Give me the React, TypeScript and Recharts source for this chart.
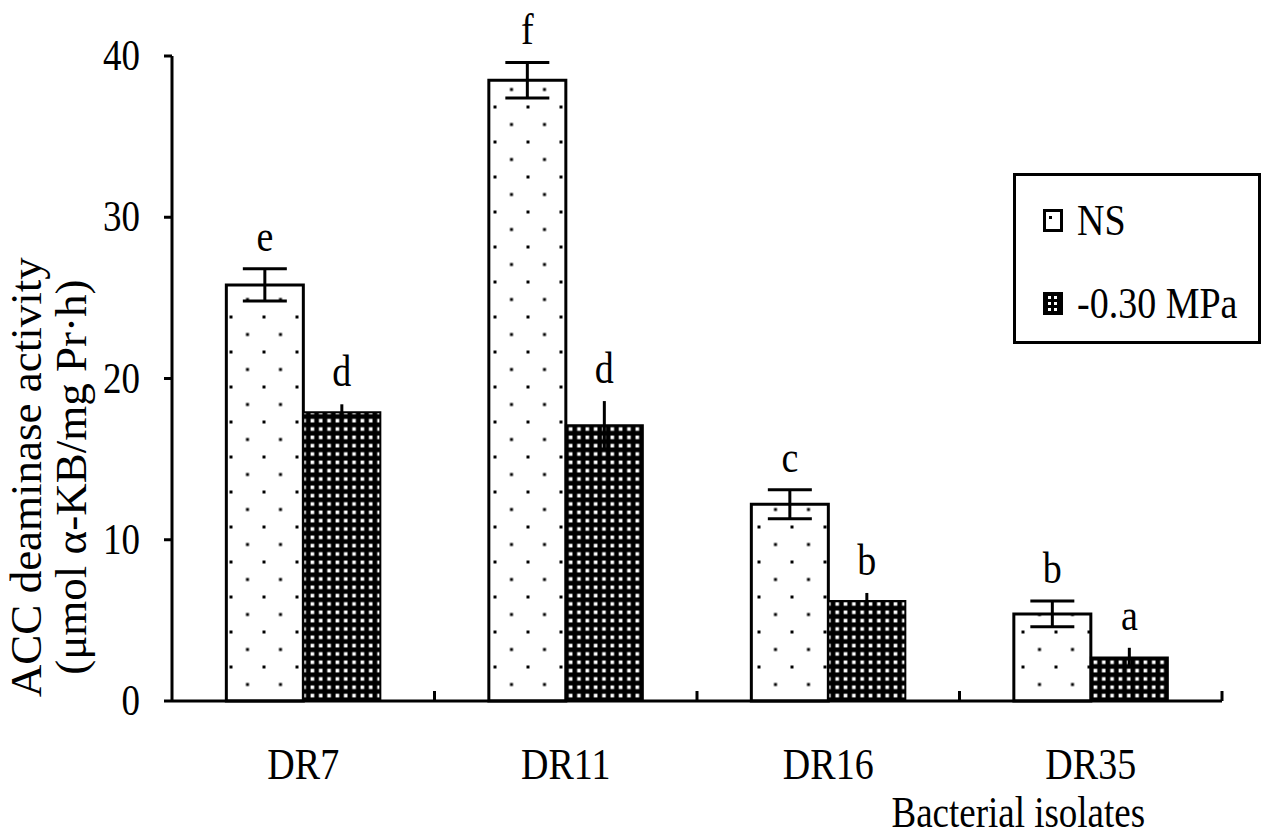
import React from 'react';
import { BarChart, Bar, XAxis, YAxis, ErrorBar, LabelList, Legend } from 'recharts';

// values
const categories = ['DR7', 'DR11', 'DR16', 'DR35'];
const nsValues = [25.8, 38.5, 12.2, 5.4];
const nsErrors = [1.0, 1.1, 0.9, 0.8];
const nsLetters = ['e', 'f', 'c', 'b'];
const stressValues = [17.9, 17.1, 6.2, 2.7];
const stressErrors = [0.5, 1.5, 0.5, 0.6];
const stressLetters = ['d', 'd', 'b', 'a'];
const yTicks = [0, 10, 20, 30, 40];
const seriesOrder = ['ns', 'stress'];

const data = categories.map((name, i) => ({
  name,
  ns: nsValues[i],
  nsErr: nsErrors[i],
  nsLetter: nsLetters[i],
  stress: stressValues[i],
  stressErr: stressErrors[i],
  stressLetter: stressLetters[i],
}));

const FONT = '"Liberation Serif", "Times New Roman", serif';
const STRETCH = 1.17;

const XTick = (props: any) => {
  const { x, y, payload } = props;
  const half = payload.offset ?? 131;
  return (
    <g>
      <line x1={x + half} x2={x + half} y1={y} y2={y - 10} stroke="#000" strokeWidth={3} />
      <g transform={`translate(${x},${y + 78}) scale(1,${STRETCH})`}>
        <text x={0} y={0} textAnchor="middle" fontFamily={FONT} fontSize={38} fill="#000">
          {payload.value}
        </text>
      </g>
    </g>
  );
};

const YTick = (props: any) => {
  const { x, y, payload } = props;
  return (
    <g transform={`translate(${x},${y}) scale(1,${STRETCH})`}>
      <text x={0} y={12} textAnchor="end" fontFamily={FONT} fontSize={37} fill="#000">
        {payload.value}
      </text>
    </g>
  );
};

const YTitle = (props: any) => {
  const vb = props.viewBox || { x: 0, y: 56, width: 172, height: 645 };
  const cy = vb.y + vb.height * 0.653;
  return (
    <g>
      <text x={41} y={cy} transform={`rotate(-90, 41, ${cy})`} textAnchor="middle" fontFamily={FONT} fontSize={45} fill="#000">
        ACC deaminase activity
      </text>
      <text x={86} y={cy} transform={`rotate(-90, 86, ${cy})`} textAnchor="middle" fontFamily={FONT} fontSize={45} fill="#000">
        (μmol α-KB/mg Pr·h)
      </text>
    </g>
  );
};

const XTitle = (props: any) => {
  const vb = props.viewBox || { x: 172, y: 701, width: 1050, height: 136 };
  const cx = vb.x + vb.width * 0.806;
  return (
    <g transform={`translate(${cx},${vb.y + vb.height - 10}) scale(1,${STRETCH})`}>
      <text x={0} y={0} textAnchor="middle" fontFamily={FONT} fontSize={37} fill="#000">
        Bacterial isolates
      </text>
    </g>
  );
};

const letterLabel = (values: number[], errors: number[]) => (props: any) => {
  const vb = props.viewBox && props.viewBox.width !== undefined ? props.viewBox : props;
  const { x, y, width, height } = vb;
  const i = props.index;
  const errPx = values[i] ? (errors[i] * Math.abs(height)) / values[i] : 0;
  const base = y - errPx - 18;
  return (
    <g transform={`translate(${x + width / 2},${base}) scale(1,${STRETCH})`}>
      <text x={0} y={0} textAnchor="middle" fontFamily={FONT} fontSize={38} fill="#000">
        {props.value}
      </text>
    </g>
  );
};

const NsIcon = () => (
  <svg width={20} height={23}>
    <rect x={1.5} y={1.5} width={17} height={20} fill="#fff" stroke="#000" strokeWidth={3} />
    <rect x={6} y={7} width={3} height={3} fill="#000" />
  </svg>
);

const StressIcon = () => (
  <svg width={20} height={23}>
    <rect x={0} y={0} width={20} height={23} fill="#000" />
    <rect x={5} y={4} width={3} height={3} fill="#fff" />
    <rect x={11} y={4} width={3} height={3} fill="#fff" />
    <rect x={5} y={10} width={3} height={3} fill="#fff" />
    <rect x={11} y={10} width={3} height={3} fill="#fff" />
    <rect x={5} y={16} width={3} height={3} fill="#fff" />
    <rect x={11} y={16} width={3} height={3} fill="#fff" />
  </svg>
);

const LegendBox = (props: any) => {
  const items = [...(props.payload || [])].sort(
    (a: any, b: any) => seriesOrder.indexOf(a.dataKey) - seriesOrder.indexOf(b.dataKey)
  );
  return (
    <div
      style={{
        position: 'absolute',
        left: 0,
        top: 0,
        width: 248,
        height: 171,
        border: '3px solid #000',
        boxSizing: 'border-box',
        background: '#fff',
        fontFamily: FONT,
        fontSize: 38,
        color: '#000',
      }}
    >
      {items.map((entry: any, i: number) => (
        <div key={entry.value} style={{ position: 'absolute', left: 27, top: 30 + i * 83, height: 28, display: 'flex', alignItems: 'center' }}>
          {entry.dataKey === 'ns' ? <NsIcon /> : <StressIcon />}
          <span style={{ marginLeft: 14, lineHeight: '28px', display: 'inline-block', transform: `scaleY(${STRETCH})`, whiteSpace: 'nowrap' }}>
            {entry.value}
          </span>
        </div>
      ))}
    </div>
  );
};

export default function App() {
  return (
    <div style={{ position: 'absolute', left: 0, top: 0, background: '#fff' }}>
      <BarChart
        width={1267}
        height={837}
        data={data}
        margin={{ top: 56, right: 45, left: 0, bottom: 0 }}
        barCategoryGap="20.7%"
        barGap={0}
      >
        <defs>
          <pattern id="nsDots" patternUnits="userSpaceOnUse" x={-1.5} y={0.5} width={33} height={35}>
            <rect x={0} y={0} width={33} height={35} fill="#fff" />
            <rect x={0} y={0} width={3} height={3} fill="#000" />
            <rect x={16.5} y={17.5} width={3} height={3} fill="#000" />
          </pattern>
          <pattern id="stressGrid" patternUnits="userSpaceOnUse" x={0} y={0} width={8.33} height={8.33}>
            <rect x={0} y={0} width={8.33} height={8.33} fill="#000" />
            <rect x={2.4} y={2.4} width={3.6} height={3.6} fill="#fff" />
          </pattern>
        </defs>
        <XAxis
          dataKey="name"
          height={136}
          tickSize={0}
          tickMargin={0}
          tickLine={false}
          axisLine={{ stroke: '#000', strokeWidth: 3 }}
          tick={<XTick />}
          interval={0}
          label={<XTitle />}
        />
        <YAxis
          domain={[0, 40]}
          ticks={yTicks}
          width={172}
          tickSize={8}
          tickMargin={24}
          interval={0}
          axisLine={{ stroke: '#000', strokeWidth: 3 }}
          tickLine={{ stroke: '#000', strokeWidth: 3 }}
          tick={<YTick />}
          label={<YTitle />}
        />
        <Legend
          align="left"
          verticalAlign="top"
          content={<LegendBox />}
          wrapperStyle={{ left: 1013, top: 173, width: 0, height: 0, overflow: 'visible' }}
        />
        <Bar dataKey="ns" name="NS" fill="url(#nsDots)" stroke="#000" strokeWidth={3} isAnimationActive={false}>
          <ErrorBar dataKey="nsErr" width={22} stroke="#000" strokeWidth={3} direction="y" />
          <LabelList dataKey="nsLetter" content={letterLabel(nsValues, nsErrors)} />
        </Bar>
        <Bar dataKey="stress" name="-0.30 MPa" fill="url(#stressGrid)" stroke="#000" strokeWidth={2} isAnimationActive={false}>
          <ErrorBar dataKey="stressErr" width={0} stroke="#000" strokeWidth={3} direction="y" />
          <LabelList dataKey="stressLetter" content={letterLabel(stressValues, stressErrors)} />
        </Bar>
      </BarChart>
    </div>
  );
}
